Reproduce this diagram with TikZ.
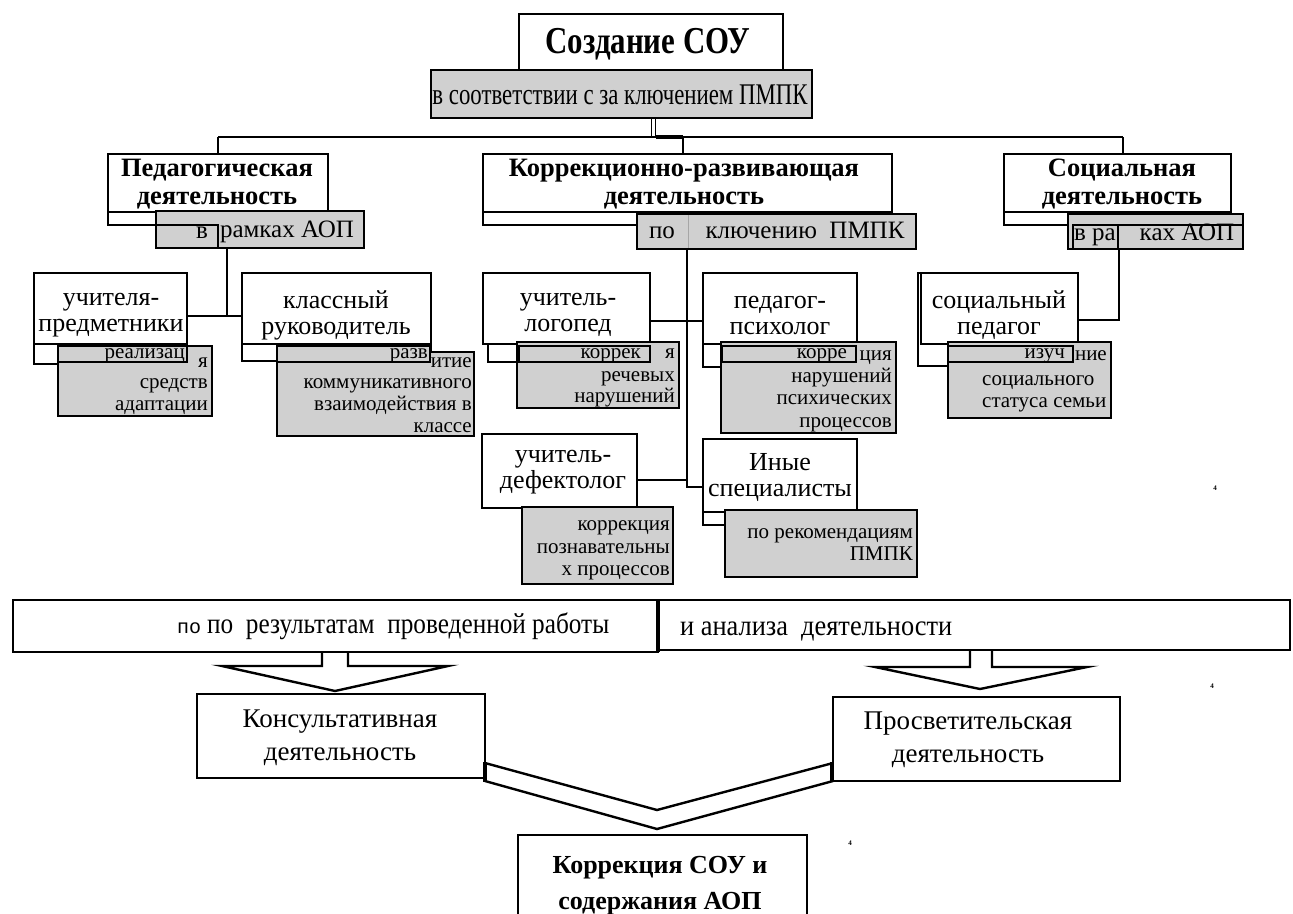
\documentclass[tikz,border=0pt]{standalone}
\usepackage{fontspec}
\usepackage{graphicx}
\setmainfont{Liberation Serif}
\newfontfamily\monof{Liberation Mono}
\definecolor{gfill}{RGB}{208,208,208}
\newcommand\fsz[1]{\fontsize{#1}{#1}\selectfont}
\newcommand\rbox[6][]{\node[#1, minimum width={(#5-#3)*1pt}, minimum height={(#6-#4)*1pt}] (#2) at ({(#3+#5)/2},{(#4+#6)/2}) {};}
\tikzset{
  wbox/.style={draw, line width=2.6pt, fill=white, inner sep=0pt, outer sep=0pt},
  bkbox/.style={draw, line width=2pt, fill=white, inner sep=0pt, outer sep=0pt},
  gbox/.style={draw, line width=2.2pt, fill=gfill, inner sep=0pt, outer sep=0pt},
  ibox/.style={draw, line width=2.6pt, fill=gfill, inner sep=0pt, outer sep=0pt},
  conn/.style={line width=2.6pt},
  hd/.style={font=\bfseries\fontsize{26.5}{28}\selectfont, align=center, inner sep=0pt},
  lt/.style={font=\fontsize{26}{26}\selectfont, align=center, inner sep=0pt},
  bt/.style={font=\fontsize{27}{33}\selectfont, align=center, inner sep=0pt},
  g2/.style={font=\fontsize{25}{25}\selectfont, inner sep=0pt, text height=17pt, text depth=6pt},
  gt/.style={font=\fontsize{21}{22}\selectfont, inner sep=0pt, text height=15pt, text depth=5pt},
  ge/.style={gt, anchor=east},
  gw/.style={gt, anchor=west},
  mk/.style={font=\bfseries\fontsize{7}{7}\selectfont, inner sep=0pt},
}
\begin{document}
\begin{tikzpicture}[x=1pt,y=-1pt]
\useasboundingbox (0,0) rectangle (1293,913);

% ---------- top ----------
\rbox[wbox]{title}{519}{14}{783}{70}
\rbox[gbox]{tg}{431}{70}{812}{118}

% level 2 boxes
\rbox[bkbox]{pedb}{108}{154}{328}{225}
\rbox[wbox]{ped}{108}{154}{328}{212}
\rbox[gbox]{pg}{156}{211}{364}{248}
\rbox[ibox]{pgi}{156}{225}{218}{248}

\rbox[bkbox]{korb}{483}{154}{892}{225}
\rbox[wbox]{kor}{483}{154}{892}{212}
\rbox[gbox]{kg}{637}{214}{916}{249}
\draw[gray!70, line width=1pt] (688,215) -- (688,248);

\rbox[bkbox]{socb}{1004}{154}{1231}{225}
\rbox[wbox]{soc}{1004}{154}{1231}{212}
\rbox[gbox]{sg}{1068}{214}{1243}{249}
\rbox[ibox]{sgi}{1073}{225}{1243}{249}
\draw[line width=2.6pt] (1118,225) -- (1118,249);

% connectors top
\coordinate (hL) at (218,137);
\coordinate (hM) at (683,137);
\coordinate (hR) at (1123,137);
\coordinate (d1) at (651.5,137);
\coordinate (d2) at (655.5,137);
\draw[line width=1.4pt] (tg.south -| d1) -- (d1);
\draw[line width=1.4pt] (tg.south -| d2) -- (d2);
\draw[conn] (hL) -- (hR);
\draw[line width=3.6pt] (d2) -- (hM);
\draw[conn] (hL) -- (ped.north -| hL);
\draw[conn] (hM) -- (kor.north -| hM);
\draw[conn] (hR) -- (soc.north -| hR);

% ---------- level 3 ----------
% left group
\rbox[bkbox]{upmb}{34}{273}{187}{364}
\rbox[wbox]{upm}{34}{273}{187}{344}
\rbox[gbox]{upmg}{58}{346}{212}{416}
\rbox[ibox]{upmi}{58}{346}{187}{362}

\rbox[bkbox]{klrb}{242}{273}{431}{361}
\rbox[wbox]{klr}{242}{273}{431}{344}
\rbox[gbox]{klrg}{277}{352}{474}{436}
\rbox[ibox]{klri}{277}{346}{430}{362}

% middle group
\rbox[bkbox]{logb}{488}{273}{650}{362}
\rbox[wbox]{logo}{483}{273}{650}{344}
\rbox[gbox]{logg}{517}{342}{679}{408}
\rbox[ibox]{logi}{519}{346}{650}{362}

\rbox[bkbox]{psyb}{703}{273}{857}{367}
\rbox[wbox]{psy}{703}{273}{857}{344}
\rbox[gbox]{psyg}{721}{342}{896}{433}
\rbox[ibox]{psyi}{722}{346}{856}{362}

\rbox[wbox]{def}{482}{434}{637}{508}
\rbox[gbox]{defg}{522}{507}{673}{584}

\rbox[bkbox]{inyb}{703}{439}{857}{525}
\rbox[wbox]{iny}{703}{439}{857}{512}
\rbox[gbox]{inyg}{725}{510}{917}{577}

% right group
\rbox[bkbox]{socpb}{918}{273}{1073}{366}
\rbox[wbox]{socp}{921}{273}{1078}{344}
\rbox[gbox]{socpg}{948}{342}{1111}{418}
\rbox[ibox]{socpi}{948}{346}{1073}{362}

% connectors level 2 -> 3
\coordinate (jA) at (227,316);
\draw[conn] (pg.south -| jA) -- (jA);
\draw[conn] (upm.east |- jA) -- (klr.west |- jA);

\coordinate (jB1) at (687,321);
\coordinate (jB2) at (687,480);
\coordinate (jB3) at (687,487);
\draw[conn] (kg.south -| jB1) -- (jB3) -- (iny.west |- jB3);
\draw[conn] (logo.east |- jB1) -- (psy.west |- jB1);
\draw[conn] (def.east |- jB2) -- (jB2);

\coordinate (jC) at (1119,320);
\draw[conn] (sg.south -| jC) -- (jC) -- (socp.east |- jC);

% ---------- bottom ----------
\draw[line width=2.4pt, fill=white] (322,652) -- (322,666) -- (222,666) -- (335,691) -- (448,666) -- (348,666) -- (348,652);
\draw[line width=2.4pt, fill=white] (970,650) -- (970,667) -- (875,667) -- (980,689) -- (1087,667) -- (992,667) -- (992,650);

\rbox[wbox]{barL}{13}{600}{658}{652}
\rbox[wbox]{barR}{658}{600}{1290}{650}
\draw[line width=4.5pt] (barL.north east) -- (barL.south east);

\rbox[wbox]{kons}{197}{694}{485}{778}
\rbox[wbox]{pros}{833}{697}{1120}{781}
\rbox[wbox]{korr}{518}{835}{807}{930}

\draw[line width=2.4pt] (kons.east |- 0,763) -- (657,810) -- (pros.west |- 0,763);
\draw[line width=2.4pt] (kons.east |- 0,781) -- (657,829) -- (pros.west |- 0,781);
\draw[line width=4.5pt] (485,762) -- (485,782);
\draw[line width=4.5pt] (832,762) -- (832,782);

% ---------- texts ----------
\node[inner sep=0pt] (titleT) at (648,44) {\resizebox{205pt}{\height}{\bfseries\fsz{38}Создание СОУ}};
\node[inner sep=0pt] (tgT) at (620,95) {\resizebox{375pt}{\height}{\fsz{30}в соответствии с за ключением ПМПК}};

\node[hd] (pedT) at (217,184) {Педагогическая\\деятельность};
\node[hd] (korT) at (684,184) {Коррекционно-развивающая\\деятельность};
\node[hd] (socT) at (1122,184) {Социальная\\деятельность};

\node[g2] (pgT1) at (202,233) {в};
\node[g2] (pgT2) at (287,232) {рамках АОП};
\node[g2] (kgT1) at (662,233) {по};
\node[g2] (kgT2) at (805,233) {ключению\ \ ПМПК};
\node[g2] (sgT1) at (1095,235) {в ра};
\node[g2] (sgT2) at (1187,235) {ках АОП};

\node[lt] (upmT) at (111,315) {учителя-\\предметники};
\node[lt] (klrT) at (336,315) {классный\\руководитель};
\node[lt] (logT) at (568,315) {учитель-\\логопед};
\node[lt] (psyT) at (780,315) {педагог-\\психолог};
\node[lt] (socpT) at (999,315) {социальный\\педагог};
\node[lt] (defT) at (563,472) {учитель-\\дефектолог};
\node[lt] (inyT) at (780,477) {Иные\\специалисты};

\node[ge] (u1) at (185,353) {реализац};
\node[ge] (u2) at (208,362) {я};
\node[ge] (u3) at (208,383) {средств};
\node[ge] (u4) at (208,405) {адаптации};

\node[ge] (k1) at (428,353) {разв};
\node[ge] (k2) at (472,362) {итие};
\node[ge] (k3) at (472,383) {коммуникативного};
\node[ge] (k4) at (472,405) {взаимодействия в};
\node[ge] (k5) at (472,427) {классе};

\node[ge] (l1) at (641,353) {коррек};
\node[ge] (l2) at (675,353) {я};
\node[ge] (l3) at (675,376) {речевых};
\node[ge] (l4) at (675,397) {нарушений};

\node[ge] (p1) at (847,353) {корре};
\node[ge] (p2) at (892,355) {ция};
\node[ge] (p3) at (892,377) {нарушений};
\node[ge] (p4) at (892,399) {психических};
\node[ge] (p5) at (892,422) {процессов};

\node[ge] (s1) at (1065,353) {изуч};
\node[ge] (s2) at (1107,355) {ние};
\node[gw] (s3) at (982,380) {социального};
\node[gw] (s4) at (982,402) {статуса семьи};

\node[ge] (d1t) at (670,525) {коррекция};
\node[ge] (d2t) at (670,548) {познавательны};
\node[ge] (d3t) at (670,570) {х процессов};

\node[ge] (i1) at (913,533) {по рекомендациям};
\node[ge] (i2) at (913,555) {ПМПК};

\node[inner sep=0pt, anchor=base, font=\monof\fontsize{20}{20}\selectfont] (blT0) at (189,633) {по};
\node[inner sep=0pt, anchor=base west] (blT) at (207,633) {\resizebox{402pt}{\height}{\fsz{29}по\ \ результатам\ \ проведенной работы}};
\node[inner sep=0pt, anchor=base west] (brT) at (680,635) {\resizebox{272pt}{\height}{\fsz{29}и анализа\ \ деятельности}};

\node[bt] (konsT) at (340,738) {Консультативная\\деятельность};
\node[bt] (prosT) at (968,740) {Просветительская\\деятельность};
\node[font=\bfseries\fontsize{26}{36}\selectfont, align=center, inner sep=0pt] (korrT) at (660,886) {Коррекция СОУ и\\содержания АОП};

\node[mk] (m1) at (1215,488) {4};
\node[mk] (m2) at (1212,686) {4};
\node[mk] (m3) at (850,843) {4};
\end{tikzpicture}
\end{document}
